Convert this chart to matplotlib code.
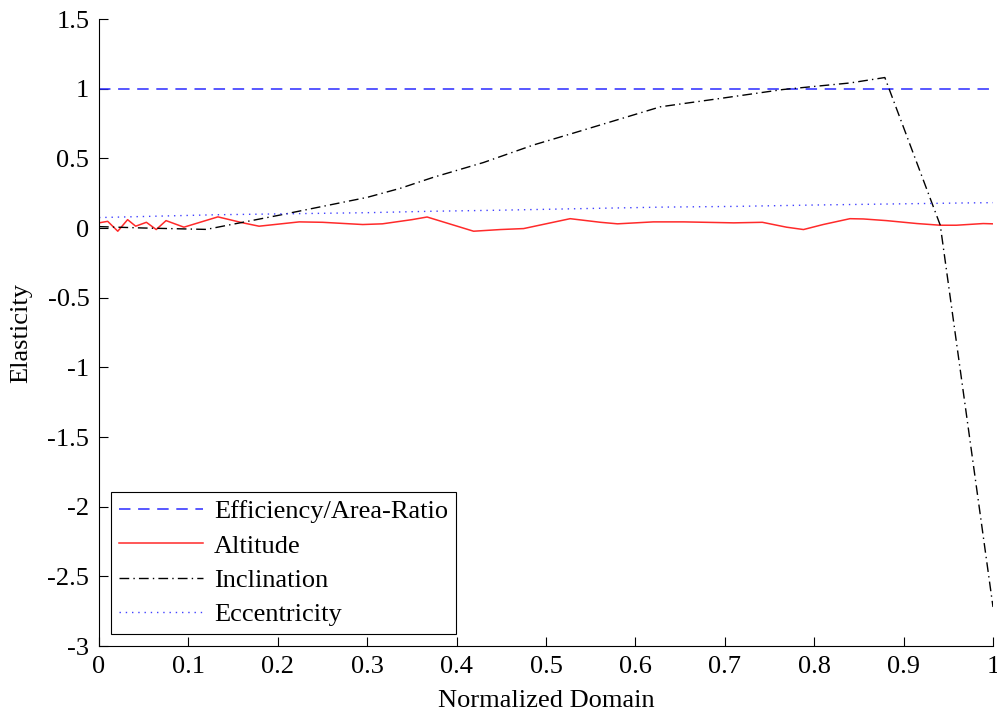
import numpy as np
from matplotlib import pyplot as plt

plt.rcParams['font.family'] = ['Liberation Serif', 'DejaVu Serif']

# values
eff_x = [0.0, 1.0]
eff_y = [1.0, 1.0]

alt_x = [0.0, 0.0097, 0.021, 0.032, 0.041, 0.053, 0.064, 0.075, 0.095, 0.133,
         0.161, 0.179, 0.224, 0.25, 0.295, 0.317, 0.35, 0.367, 0.419, 0.449,
         0.475, 0.527, 0.561, 0.58, 0.62, 0.654, 0.71, 0.742, 0.769, 0.788,
         0.81, 0.84, 0.855, 0.881, 0.915, 0.941, 0.959, 0.989, 1.0]
alt_y = [0.037, 0.048, -0.023, 0.06, 0.013, 0.041, -0.011, 0.053, 0.006, 0.08,
         0.037, 0.013, 0.044, 0.041, 0.025, 0.03, 0.06, 0.079, -0.023, -0.011,
         -0.004, 0.067, 0.041, 0.03, 0.044, 0.044, 0.037, 0.041, 0.006, -0.011,
         0.025, 0.067, 0.065, 0.053, 0.032, 0.02, 0.02, 0.032, 0.03]

inc_x = [0.0, 0.05, 0.12, 0.2, 0.3, 0.337, 0.374, 0.43, 0.486, 0.53, 0.579,
         0.628, 0.695, 0.765, 0.803, 0.84, 0.879, 0.941, 1.0]
inc_y = [0.01, 0.0, -0.01, 0.09, 0.22, 0.285, 0.364, 0.47, 0.596, 0.68, 0.775,
         0.87, 0.93, 0.994, 1.018, 1.041, 1.08, 0.02, -2.72]

ecc_x = [0.0, 0.13, 0.3, 0.37, 0.45, 0.53, 0.63, 0.71, 0.8, 0.88, 0.97, 1.0]
ecc_y = [0.075, 0.095, 0.11, 0.12, 0.128, 0.138, 0.15, 0.155, 0.165, 0.172, 0.18, 0.182]

fig = plt.figure(figsize=(9.97, 7.15), dpi=100)
ax = fig.add_axes([0.0993, 0.0965, 0.8967, 0.8769])

ax.plot(eff_x, eff_y, color='#2a2aff', lw=1.1, dashes=(7.5, 5),
        label='Efficiency/Area-Ratio')
ax.plot(alt_x, alt_y, color='#ff2a2a', lw=1.1, label='Altitude')
ax.plot(inc_x, inc_y, color='k', lw=1.0, dashes=(7, 3, 1, 3),
        label='Inclination')
ax.plot(ecc_x, ecc_y, color='#4040ff', lw=1.0, dashes=(1, 3.5),
        label='Eccentricity')

ax.set_xlim(0, 1)
ax.set_ylim(-3, 1.5)
ax.set_xticks(np.arange(0, 1.01, 0.1))
ax.set_xticklabels(['0', '0.1', '0.2', '0.3', '0.4', '0.5', '0.6', '0.7', '0.8', '0.9', '1'])
ax.set_yticks(np.arange(-3, 1.51, 0.5))
ax.set_yticklabels(['-3', '-2.5', '-2', '-1.5', '-1', '-0.5', '0', '0.5', '1', '1.5'])
ax.spines['top'].set_visible(False)
ax.spines['right'].set_visible(False)
ax.tick_params(direction='in', length=6.5, width=0.8, labelsize=19, pad=7)

ax.set_xlabel('Normalized Domain', fontsize=19, labelpad=9)
ax.set_ylabel('Elasticity', fontsize=19, labelpad=11)

leg = ax.legend(loc='lower left', bbox_to_anchor=(0.0134, 0.019), borderaxespad=0,
                fontsize=19, handlelength=3.2, handletextpad=0.4,
                labelspacing=0.41, borderpad=0.3, fancybox=False,
                framealpha=1, edgecolor='k')
leg.get_frame().set_linewidth(0.8)

fig.savefig('out.png', dpi=100)
